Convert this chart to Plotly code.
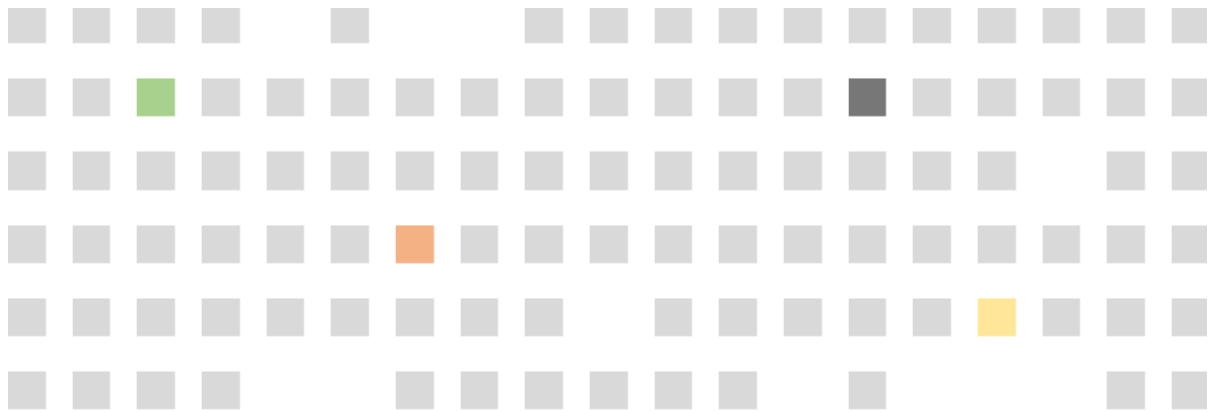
import plotly.graph_objects as go

n_cols = 19
n_rows = 6
columns = list(range(n_cols))
rows = list(range(n_rows))

# Cell categories: 0 = gray, 1 = green, 2 = dark gray, 3 = orange, 4 = yellow, None = empty
row0 = [0, 0, 0, 0, None, 0, None, None, 0, 0, 0, 0, 0, 0, 0, 0, 0, 0, 0]
row1 = [0, 0, 1, 0, 0, 0, 0, 0, 0, 0, 0, 0, 0, 2, 0, 0, 0, 0, 0]
row2 = [0, 0, 0, 0, 0, 0, 0, 0, 0, 0, 0, 0, 0, 0, 0, 0, None, 0, 0]
row3 = [0, 0, 0, 0, 0, 0, 3, 0, 0, 0, 0, 0, 0, 0, 0, 0, 0, 0, 0]
row4 = [0, 0, 0, 0, 0, 0, 0, 0, 0, None, 0, 0, 0, 0, 0, 4, 0, 0, 0]
row5 = [0, 0, 0, 0, None, None, 0, 0, 0, 0, 0, 0, None, 0, None, None, None, 0, 0]
grid = [row0, row1, row2, row3, row4, row5]

category_colors = ["#d9d9d9", "#a9d18e", "#777777", "#f4b183", "#ffe699"]

n_cat = len(category_colors)
colorscale = []
for i, c in enumerate(category_colors):
    colorscale.append([i / n_cat, c])
    colorscale.append([(i + 1) / n_cat, c])

W, H = 1215, 412
px_x = 64.667
px_y = 73.2
cell = 38

fig = go.Figure(
    go.Heatmap(
        z=grid,
        x=columns,
        y=rows,
        zmin=-0.5,
        zmax=n_cat - 0.5,
        colorscale=colorscale,
        showscale=False,
        xgap=px_x - cell,
        ygap=px_y - cell,
        hoverongaps=False,
    )
)

x_left = -19 / px_x
x_right = (n_cols - 1) + 32 / px_x
y_top = -17 / px_y
y_bottom = (n_rows - 1) + 29 / px_y

fig.update_layout(
    width=W,
    height=H,
    margin=dict(l=0, r=0, t=0, b=0),
    paper_bgcolor="white",
    plot_bgcolor="white",
    xaxis=dict(range=[x_left, x_right], visible=False, fixedrange=True),
    yaxis=dict(range=[y_bottom, y_top], visible=False, fixedrange=True),
)

fig.write_html("out.html")
